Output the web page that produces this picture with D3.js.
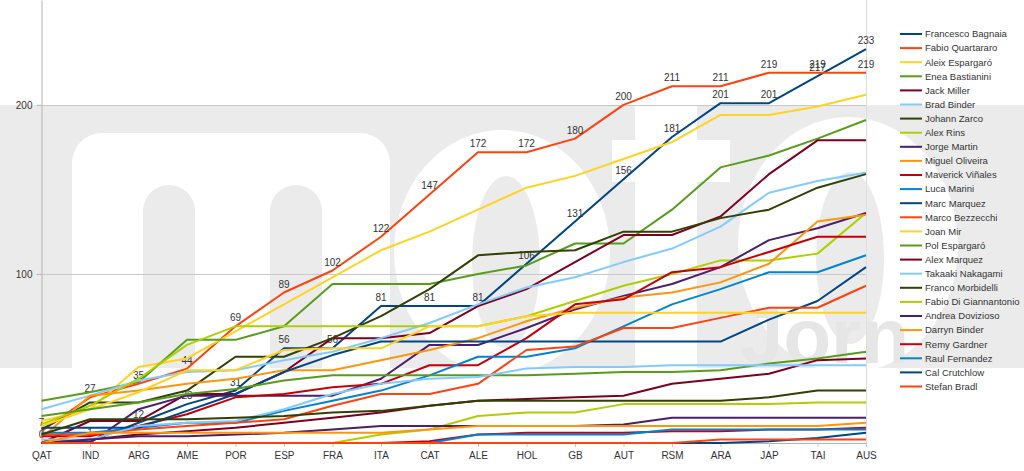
<!DOCTYPE html>
<html><head><meta charset="utf-8">
<script src="https://cdn.jsdelivr.net/npm/d3@7"></script>
<style>body{margin:0;background:#fff;} svg{display:block;font-family:"Liberation Sans",Arial,sans-serif;}</style>
</head><body><svg id="c" width="1024" height="471"></svg>
<script>
const races = ["QAT","IND","ARG","AME","POR","ESP","FRA","ITA","CAT","ALE","HOL","GB","AUT","RSM","ARA","JAP","TAI","AUS"];
const riders = ["Francesco Bagnaia","Fabio Quartararo","Aleix Espargaró","Enea Bastianini","Jack Miller","Brad Binder","Johann Zarco","Alex Rins","Jorge Martin","Miguel Oliveira","Maverick Viñales","Luca Marini","Marc Marquez","Marco Bezzecchi","Joan Mir","Pol Espargaró","Alex Marquez","Takaaki Nakagami","Franco Morbidelli","Fabio Di Giannantonio","Andrea Dovizioso","Darryn Binder","Remy Gardner","Raul Fernandez","Cal Crutchlow","Stefan Bradl"];
const bagnaia     = [0,1,12,23,31,56,56,81,81,81,106,131,156,181,201,201,217,233];
const quartararo  = [7,27,35,44,69,89,102,122,147,172,172,180,200,211,211,219,219,219];
const aleix       = [13,20,45,50,66,82,98,114,125,138,151,158,168,178,194,194,199,206];
const bastianini  = [25,30,36,61,61,69,94,94,94,100,105,118,118,138,163,170,180,191];
const miller      = [0,13,13,29,29,42,62,62,65,81,91,107,123,123,134,159,179,179];
const bradBinder  = [20,28,37,42,43,49,54,62,71,82,92,98,107,115,128,148,155,160];
const zarco       = [8,24,24,31,51,51,62,75,91,111,113,114,125,125,133,138,151,159];
const rins        = [11,22,38,58,69,69,69,69,69,69,75,84,93,100,108,108,112,136];
const martin      = [0,0,20,28,28,28,28,38,58,58,68,79,87,94,104,120,127,136];
const oliveira    = [3,28,31,35,38,43,43,49,55,62,72,80,86,89,95,106,131,135];
const vinales     = [4,4,10,17,27,29,33,35,46,46,62,82,85,101,104,113,122,122];
const marini      = [6,6,9,12,12,19,25,31,40,51,51,56,69,82,91,101,101,111];
const marcMarquez = [9,9,9,19,29,42,52,60,60,60,60,60,60,60,60,73,84,104];
const bezzecchi   = [5,5,8,10,12,14,22,29,29,35,55,57,68,68,74,80,80,93];
const mir         = [10,20,30,43,43,55,56,56,69,69,75,77,77,77,77,77,77,77];
const polEspargaro= [16,20,24,29,32,37,40,40,40,40,40,41,42,42,43,47,50,54];
const alexMarquez = [0,2,5,7,9,12,15,18,22,25,26,27,28,35,38,41,49,50];
const nakagami    = [2,2,10,12,13,20,29,35,38,39,44,45,45,46,46,46,46,46];
const morbidelli  = [5,14,14,14,15,16,18,19,22,25,25,25,25,25,25,27,31,31];
const diGiannantonio = [0,0,0,0,0,0,0,5,8,16,18,18,23,23,23,23,24,24];
const dovizioso   = [0,2,4,4,5,6,8,10,10,10,10,10,11,15,15,15,15,15];
const darrynBinder= [0,6,6,6,6,6,6,6,8,10,10,10,10,10,10,10,10,12];
const gardner     = [0,0,0,0,0,0,0,0,1,5,6,6,6,7,7,8,8,9];
const raulFernandez=[0,0,0,0,0,0,0,0,0,5,5,5,5,8,8,8,8,8];
const crutchlow   = [0,0,0,0,0,0,0,0,0,0,0,0,0,0,0,1,3,6];
const bradl       = [0,0,0,0,0,0,0,0,0,0,0,0,0,0,2,2,2,2];
const yTicks = [100, 200];
const labelled = ["Francesco Bagnaia","Fabio Quartararo"];

const seriesValues = [bagnaia,quartararo,aleix,bastianini,miller,bradBinder,zarco,rins,martin,oliveira,vinales,marini,marcMarquez,bezzecchi,mir,polEspargaro,alexMarquez,nakagami,morbidelli,diGiannantonio,dovizioso,darrynBinder,gardner,raulFernandez,crutchlow,bradl];
const palette = ["#004586","#ff420e","#ffd320","#579d1c","#7e0021","#83caff","#314004","#aecf00","#4b1f6f","#ff950e","#c5000b","#0084d1"];
const series = riders.map((n,i)=>({name:n, values:seriesValues[i], color:palette[i%palette.length]}));

const svg = d3.select("#c");
// watermark
const wm = svg.append("g");
const bandCol = "#ebebeb";
wm.append("clipPath").attr("id","band").append("rect").attr("x",0).attr("y",105).attr("width",1024).attr("height",263);
wm.append("rect").attr("x",0).attr("y",105).attr("width",1024).attr("height",263).attr("fill",bandCol);
const lg = wm.append("g").attr("clip-path","url(#band)");
// m
lg.append("rect").attr("x",72).attr("y",133).attr("width",318).attr("height",260).attr("rx",30).attr("fill","#fff");
lg.append("rect").attr("x",143).attr("y",185).attr("width",52).attr("height",260).attr("rx",26).attr("fill",bandCol);
lg.append("rect").attr("x",270).attr("y",185).attr("width",52).attr("height",260).attr("rx",26).attr("fill",bandCol);
// o
lg.append("ellipse").attr("cx",502).attr("cy",252).attr("rx",108).attr("ry",122).attr("fill","#fff");
lg.append("ellipse").attr("cx",506).attr("cy",262).attr("rx",34).attr("ry",86).attr("fill",bandCol);
// t
lg.append("rect").attr("x",635).attr("y",100).attr("width",62).attr("height",300).attr("fill","#fff");
lg.append("rect").attr("x",612).attr("y",140).attr("width",118).attr("height",42).attr("fill","#fff");
// o
lg.append("ellipse").attr("cx",848).attr("cy",245).attr("rx",110).attr("ry",128).attr("fill","#fff");
lg.append("ellipse").attr("cx",850).attr("cy",258).attr("rx",34).attr("ry",86).attr("fill",bandCol);
wm.append("text").attr("x",740).attr("y",363).attr("font-size",78).attr("font-weight","bold").attr("fill","#e6e6e6").text("Jorn");

const x = d3.scalePoint().domain(races).range([41.5, 866]);
const y = d3.scaleLinear().domain([0, 262]).range([443, 0]);

// grid
svg.append("g").selectAll("line").data(yTicks).join("line")
  .attr("x1",41.5).attr("x2",866).attr("y1",d=>Math.round(y(d))+0.5).attr("y2",d=>Math.round(y(d))+0.5)
  .attr("stroke","#c8c8c8");
svg.append("line").attr("x1",866.5).attr("x2",866.5).attr("y1",0).attr("y2",443).attr("stroke","#dedede");

const yAx = svg.append("g").attr("transform","translate(41.5,0)").call(d3.axisLeft(y).tickValues(yTicks).tickSize(5).tickSizeOuter(0).tickPadding(4));
yAx.select(".domain").attr("stroke","#b3b3b3");
yAx.selectAll(".tick line").attr("stroke","#b3b3b3");
yAx.selectAll("text").attr("font-size",10).attr("fill","#333").attr("font-family","Liberation Sans, Arial, sans-serif");

const xAx = svg.append("g").attr("transform","translate(0,443)").call(d3.axisBottom(x).tickSize(4).tickSizeOuter(0).tickPadding(5));
xAx.select(".domain").attr("stroke","#b3b3b3");
xAx.selectAll(".tick line").attr("stroke","#c8c8c8");
xAx.selectAll("text").attr("font-size",10).attr("fill","#333").attr("font-family","Liberation Sans, Arial, sans-serif");

const line = d3.line().x((d,i)=>x(races[i])).y(d=>y(d));
const plot = svg.append("g");
series.forEach(s=>{
  plot.append("path").datum(s.values).attr("d",line).attr("fill","none")
    .attr("stroke",s.color).attr("stroke-width",2).attr("stroke-linejoin","round");
  if(labelled.includes(s.name)){
    plot.append("g").selectAll("text").data(s.values).join("text")
      .attr("x",(d,i)=>x(races[i])).attr("y",d=>y(d)-5)
      .attr("text-anchor","middle").attr("font-size",10).attr("fill","#333").text(d=>d);
  }
});

// legend
const leg = svg.append("g");
series.forEach((s,i)=>{
  const yy = 34 + i*14.1;
  leg.append("line").attr("x1",900).attr("x2",922).attr("y1",yy).attr("y2",yy).attr("stroke",s.color).attr("stroke-width",2);
  leg.append("text").attr("x",925).attr("y",yy).attr("dy","0.35em").attr("font-size",9.5).attr("fill","#333").text(s.name);
});
</script></body></html>
